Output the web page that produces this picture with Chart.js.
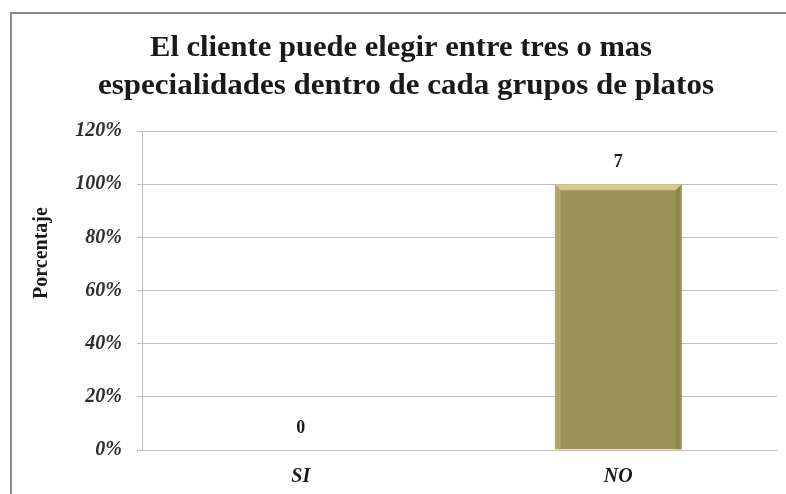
<!DOCTYPE html>
<html>
<head>
<meta charset="utf-8">
<script src="https://cdn.jsdelivr.net/npm/chart.js@4.4.1/dist/chart.umd.min.js"></script>
<style>
  html, body { margin: 0; padding: 0; background: #fff; }
  #wrap { width: 786px; height: 494px; position: relative; }
</style>
</head>
<body>
<div id="wrap"><canvas id="c" width="786" height="494"></canvas></div>
<script>
const titleLines = ["El cliente puede elegir entre tres o mas", "especialidades dentro de cada grupos de platos"];
const categories = ["SI", "NO"];
const percentValues = [0, 100];
const countLabels = ["0", "7"];
const yTicks = [0, 20, 40, 60, 80, 100, 120];
const yAxisTitle = "Porcentaje";

const serif = '"Liberation Serif", "Times New Roman", serif';

function fitText(ctx, text, cx, cy, targetW) {
  const w = ctx.measureText(text).width;
  const s = targetW / w;
  ctx.save();
  ctx.translate(cx, cy);
  ctx.scale(s, 1);
  ctx.fillText(text, 0, 0);
  ctx.restore();
}

const framePlugin = {
  id: 'frame',
  beforeDraw(chart) {
    const ctx = chart.ctx;
    ctx.save();
    ctx.fillStyle = '#ffffff';
    ctx.fillRect(0, 0, chart.width, chart.height);
    ctx.strokeStyle = '#8a8a8a';
    ctx.lineWidth = 2;
    ctx.strokeRect(11, 13, 800, 500);
    ctx.restore();
  },
  afterDraw(chart) {
    const ctx = chart.ctx;
    ctx.save();
    ctx.fillStyle = '#1a1a1a';
    ctx.font = 'bold 29px ' + serif;
    ctx.textAlign = 'center';
    ctx.textBaseline = 'middle';
    fitText(ctx, titleLines[0], 401, 49, 502);
    fitText(ctx, titleLines[1], 406, 87, 616);
    // axis title
    ctx.font = 'bold 20px ' + serif;
    ctx.translate(42, 253);
    ctx.rotate(-Math.PI / 2);
    ctx.fillText(yAxisTitle, 0, 0);
    ctx.restore();
  }
};

const labelPlugin = {
  id: 'vlabels',
  afterDatasetsDraw(chart) {
    const ctx = chart.ctx;
    const meta = chart.getDatasetMeta(0);
    ctx.save();
    ctx.fillStyle = '#1a1a1a';
    ctx.font = 'bold 18px ' + serif;
    ctx.textAlign = 'center';
    ctx.textBaseline = 'middle';
    meta.data.forEach((bar, i) => {
      ctx.fillText(countLabels[i], bar.x, bar.y - 22);
    });
    ctx.restore();
  }
};

const bevelPlugin = {
  id: 'bevel',
  afterDatasetsDraw(chart) {
    const ctx = chart.ctx;
    const meta = chart.getDatasetMeta(0);
    ctx.save();
    meta.data.forEach((bar) => {
      const h = bar.base - bar.y;
      if (h <= 2) return;
      const l = bar.x - bar.width / 2, r = bar.x + bar.width / 2, t = bar.y, b = bar.base;
      const bw = 6;
      ctx.fillStyle = 'rgba(230,220,160,0.75)';
      ctx.beginPath();
      ctx.moveTo(l, t); ctx.lineTo(r, t); ctx.lineTo(r - bw, t + bw); ctx.lineTo(l + bw, t + bw); ctx.closePath(); ctx.fill();
      ctx.fillStyle = 'rgba(200,190,130,0.45)';
      ctx.beginPath();
      ctx.moveTo(l, t); ctx.lineTo(l + bw, t + bw); ctx.lineTo(l + bw, b); ctx.lineTo(l, b); ctx.closePath(); ctx.fill();
      ctx.fillStyle = 'rgba(120,110,60,0.35)';
      ctx.beginPath();
      ctx.moveTo(r, t); ctx.lineTo(r - bw, t + bw); ctx.lineTo(r - bw, b); ctx.lineTo(r, b); ctx.closePath(); ctx.fill();
    });
    ctx.restore();
  }
};

new Chart(document.getElementById('c'), {
  type: 'bar',
  data: {
    labels: categories,
    datasets: [{
      data: percentValues,
      backgroundColor: '#9c9158',
      borderColor: '#857b48',
      borderWidth: 1,
      barPercentage: 0.4,
      categoryPercentage: 1.0
    }]
  },
  options: {
    responsive: false,
    animation: false,
    devicePixelRatio: 1,
    layout: { padding: { top: 131, left: 12, right: 9, bottom: 0 } },
    plugins: {
      legend: { display: false },
      title: { display: false },
      tooltip: { enabled: false }
    },
    scales: {
      x: {
        grid: { display: false, drawTicks: false },
        border: { color: '#bdbdbd', width: 1 },
        ticks: {
          color: '#1a1a1a',
          font: { family: serif, size: 20, style: 'italic', weight: 'bold' },
          padding: 15
        },
        afterFit(scale) { scale.height = 44; }
      },
      y: {
        min: 0,
        max: 120,
        afterBuildTicks(scale) { scale.ticks = yTicks.map(v => ({ value: v })); },
        grid: { color: '#bdbdbd', lineWidth: 1, tickLength: 5 },
        border: { color: '#bdbdbd', width: 1 },
        ticks: {
          color: '#2e2e2e',
          font: { family: serif, size: 20, style: 'italic', weight: 'bold' },
          padding: 15,
          callback: (v) => v + '%'
        },
        afterFit(scale) { scale.width = 130; }
      }
    }
  },
  plugins: [framePlugin, labelPlugin, bevelPlugin]
});
</script>
</body>
</html>
